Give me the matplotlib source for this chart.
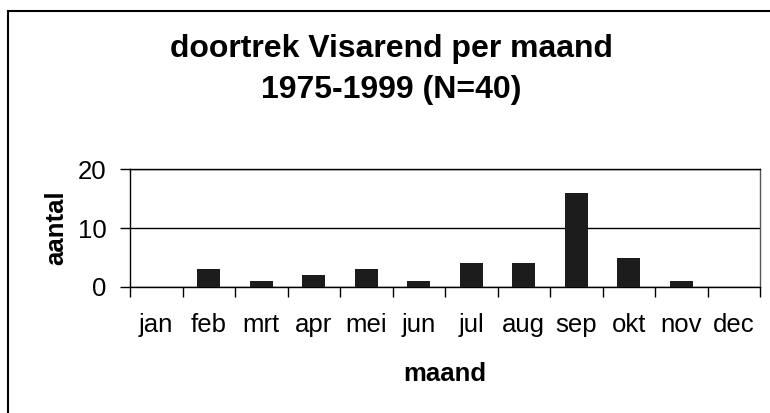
"""
Doortrek Visarend per maand, 1975-1999
"""

import matplotlib
matplotlib.use("Agg")
import matplotlib.pyplot as plt
from matplotlib.patches import Rectangle

months = ["jan", "feb", "mrt", "apr", "mei", "jun",
          "jul", "aug", "sep", "okt", "nov", "dec"]
counts = [0, 3, 1, 2, 3, 1, 4, 4, 16, 5, 1, 0]
y_ticks = [0, 10, 20]

title_line1 = "doortrek Visarend per maand"
title_line2 = "1975-1999 (N=40)"

plt.rcParams['font.family'] = ['Liberation Sans', 'DejaVu Sans']

W, H = 770, 413
fig = plt.figure(figsize=(W / 100, H / 100), dpi=100)

# axes box in pixel terms: left 130, right 760, top 169, bottom 287
ax = fig.add_axes([130 / W, 1 - 287 / H, (760 - 130) / W, (287 - 169) / H])

x = list(range(len(months)))
ax.bar(x, counts, width=0.44, color='#1c1c1c', zorder=3)

ax.set_xlim(-0.5, len(months) - 0.5)
ax.set_ylim(0, 20)

# category labels between boundary ticks
ax.set_xticks([i - 0.5 for i in range(len(months) + 1)])
ax.set_xticklabels([])
ax.set_xticks(x, minor=True)
ax.set_xticklabels(months, minor=True, fontsize=18.5)
ax.tick_params(axis='x', which='major', direction='out', length=7, width=1, color='black')
ax.tick_params(axis='x', which='minor', length=0, pad=19)

ax.set_yticks(y_ticks)
ax.set_yticklabels([str(v) for v in y_ticks], fontsize=18.5)
ax.tick_params(axis='y', direction='out', length=7, width=1, pad=10)

ax.yaxis.grid(True, color='black', linewidth=1)
ax.set_axisbelow(True)
for side in ['left', 'bottom', 'right', 'top']:
    ax.spines[side].set_color('black')
    ax.spines[side].set_linewidth(1)
ax.spines['right'].set_color('#555555')

ax.set_xlabel("maand", fontsize=18.5, fontweight='bold', labelpad=18)
ax.set_ylabel("aantal", fontsize=18.5, fontweight='bold', labelpad=7)

fig.text(391 / W, 1 - 57 / H, title_line1, ha='center', va='baseline',
         fontsize=23, fontweight='bold')
fig.text(391 / W, 1 - 98 / H, title_line2, ha='center', va='baseline',
         fontsize=23, fontweight='bold')

# outer chart frame (right and bottom fall outside the picture)
fig.patches.append(Rectangle((8 / W, -0.2), 1.2, 1.2 - 11 / H,
                             transform=fig.transFigure, fill=False,
                             edgecolor='black', linewidth=1.5))

fig.savefig("out.png", dpi=100)
